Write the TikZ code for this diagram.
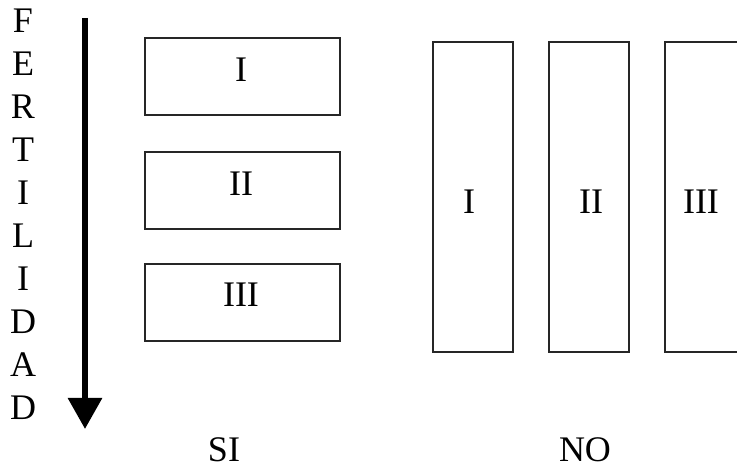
\documentclass[tikz,border=0pt]{standalone}
\usepackage{fontspec}
\setmainfont{Liberation Serif}
\usetikzlibrary{arrows.meta}
\begin{document}
\begin{tikzpicture}[x=1pt,y=1pt,
  box/.style={draw=black!85, line width=2pt, inner sep=0pt},
  hbox/.style={box, minimum width=195pt, minimum height=77pt},
  vbox/.style={box, minimum width=80pt, minimum height=310pt},
  txt/.style={inner sep=0pt, anchor=base, font=\fontsize{36}{36}\selectfont},
  axis/.style={line width=6pt, -{Triangle[width=33pt,length=31pt]}}]
\clip (0,0) rectangle (737,470);
\fill[white] (0,0) rectangle (737,470);
% vertical word
\foreach \ch [count=\i from 0] in {F,E,R,T,I,L,I,D,A,D}{
  \node[txt] (l\i) at (23, 437-43*\i) {\ch};
}
% arrow
\coordinate (atop) at (85,452);
\coordinate (abot) at (85,41);
\draw[axis] (atop) -- (abot);
% SI boxes
\node[hbox] (s1) at (242.5,393.5) {};
\node[hbox] (s2) at (242.5,279) {};
\node[hbox] (s3) at (242.5,167.5) {};
\node[txt] (ts1) at (241,388) {I};
\node[txt] (ts2) at (241,274) {II};
\node[txt] (ts3) at (241,163) {III};
% NO boxes
\node[vbox] (n1) at (473,273) {};
\node[vbox] (n2) at (588.5,273) {};
\node[vbox] (n3) at (705,273) {};
\node[txt] (t1) at (469,256) {I};
\node[txt] (t2) at (591,256) {II};
\node[txt] (t3) at (701,256) {III};
% captions
\node[txt] (si) at (224,8) {SI};
\node[txt] (no) at (585,8) {NO};
\end{tikzpicture}
\end{document}
